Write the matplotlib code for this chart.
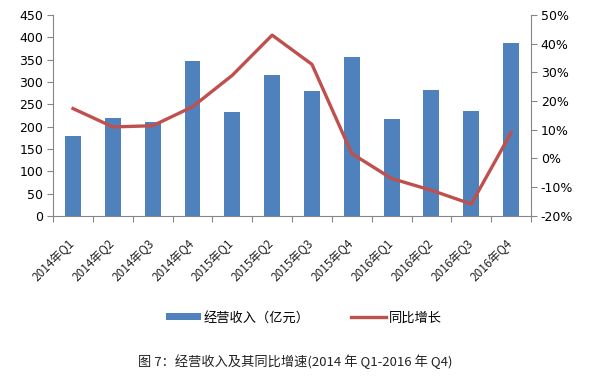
import numpy as np
import matplotlib
matplotlib.use('Agg')
import matplotlib.pyplot as plt
import matplotlib.transforms as mtransforms
from matplotlib.ticker import FuncFormatter, FixedLocator

plt.rcParams['font.family'] = ['Noto Sans CJK SC', 'DejaVu Sans']

quarters = ['2014年Q1', '2014年Q2', '2014年Q3', '2014年Q4',
            '2015年Q1', '2015年Q2', '2015年Q3', '2015年Q4',
            '2016年Q1', '2016年Q2', '2016年Q3', '2016年Q4']
revenue = [180, 220, 210, 348, 232, 315, 280, 355, 216, 283, 236, 387]
growth = [17.4, 11.0, 11.4, 18.0, 29.0, 43.0, 32.8, 1.7, -7.0, -11.1, -15.9, 9.0]

bar_color = '#4F81BD'
line_color = '#C0504D'
axis_color = '#868686'

fig = plt.figure(figsize=(5.9, 3.76), dpi=100)
ax = fig.add_axes([0.09, 0.426, 0.81, 0.534])
ax2 = ax.twinx()

x = np.arange(len(quarters))
b = ax.bar(x, revenue, width=0.4, color=bar_color, zorder=2)
l, = ax2.plot(x, growth, color=line_color, lw=2.4, solid_joinstyle='round', zorder=3)

ax.set_xlim(-0.5, len(quarters) - 0.5)
ax.set_ylim(0, 450)
ax.set_yticks(range(0, 451, 50))
ax2.set_ylim(-20, 50)
ax2.set_yticks(range(-20, 51, 10))
ax2.yaxis.set_major_formatter(FuncFormatter(lambda v, p: f'{int(v)}%'))

# ticks at category boundaries, labels at centers
ax.xaxis.set_major_locator(FixedLocator(np.arange(-0.5, len(quarters), 1)))
ax.xaxis.set_major_formatter(FuncFormatter(lambda v, p: ''))
ax.set_xticks(x, minor=True)
ax.set_xticklabels(quarters, minor=True, rotation=45, ha='right',
                   rotation_mode='anchor', fontsize=8.5, color='#222222')
ax.tick_params(axis='x', which='minor', length=0, pad=15)
ax.tick_params(axis='x', which='major', length=4, color=axis_color, direction='out')
shift = mtransforms.ScaledTranslation(-0.05, 0, fig.dpi_scale_trans)
for t in ax.get_xticklabels(minor=True):
    t.set_transform(t.get_transform() + shift)

for a in (ax, ax2):
    for s in a.spines.values():
        s.set_color(axis_color)
    a.spines['top'].set_visible(False)
ax.spines['right'].set_visible(False)
ax2.spines['left'].set_visible(False)
ax2.spines['bottom'].set_visible(False)

ax.tick_params(axis='y', length=4, color=axis_color, labelsize=9, pad=3)
ax2.tick_params(axis='y', length=4, color=axis_color, labelsize=9, pad=3)
for t in ax.get_yticklabels() + ax2.get_yticklabels():
    t.set_family('DejaVu Sans')

ax.set_zorder(ax2.get_zorder() - 1)
ax.patch.set_visible(True)
ax2.patch.set_visible(False)

fig.legend([b, l], ['经营收入（亿元）', '同比增长'], loc='center',
           bbox_to_anchor=(0.515, 0.154), ncol=2, frameon=False, fontsize=9.5,
           handlelength=2.6, handleheight=0.45, columnspacing=3.2, handletextpad=0.2)

fig.text(0.5, 0.037, '图 7：经营收入及其同比增速(2014 年 Q1-2016 年 Q4)', ha='center',
         va='center', fontsize=9.5, color='#222222')

fig.savefig('out.png', dpi=100)
